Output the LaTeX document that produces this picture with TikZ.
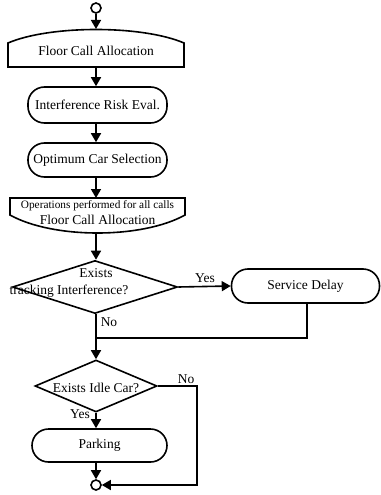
\documentclass[tikz,border=0pt]{standalone}
\usepackage{fontspec}
\setmainfont{Liberation Serif}
\usetikzlibrary{shapes.geometric,arrows.meta}
\begin{document}
\begin{tikzpicture}[x=1pt,y=-1pt,line width=1.6pt,
  txt/.style={font=\fontsize{13.5}{15}\selectfont,inner sep=0pt},
  small/.style={font=\fontsize{11.3}{12}\selectfont,inner sep=0pt},
  term/.style={draw,rounded corners=16.5pt,inner sep=0pt,font=\fontsize{13.5}{15}\selectfont},
  dia/.style={draw,diamond,inner sep=0pt},
  conn/.style={draw,circle,minimum size=10pt,inner sep=0pt},
  arr/.style={-{Triangle[length=9pt,width=10pt]}},
  lab/.style={font=\fontsize{13.5}{15}\selectfont,inner sep=0pt}]
\useasboundingbox (0,0) rectangle (380,495);
% start connector
\node[conn] (start) at (96,8) {};
% loop start shape
\draw (8,43) .. controls (50,25) and (142,25) .. (184,43) -- (184,67) -- (8,67) -- cycle;
\node[txt] (fca) at (96,51) {Floor Call Allocation};
\coordinate (fcaT) at (96,29);
\coordinate (fcaB) at (96,67);
% process terminals
\node[term,minimum width=139pt,minimum height=36pt] (ire) at (97.5,105) {Interference Risk Eval.};
\node[term,minimum width=139pt,minimum height=34pt] (ocs) at (97.5,160) {Optimum Car Selection};
% loop end shape
\draw (10,198) -- (185,198) -- (185,215) .. controls (142,239) and (53,239) .. (10,215) -- cycle;
\node[small] (ops) at (97.5,206) {Operations performed for all calls};
\node[txt] (fca2) at (97.5,220) {Floor Call Allocation};
\coordinate (leT) at (97.5,198);
\coordinate (leB) at (97.5,233);
% decision 1
\node[dia,minimum width=165pt,minimum height=53pt] (d1) at (95,287) {};
\node[txt] (d1a) at (96,273) {Exists};
\node[txt] (d1b) at (69,291) {tracking Interference?};
% service delay
\node[term,minimum width=148pt,minimum height=34pt] (sd) at (305.5,286) {Service Delay};
% decision 2
\node[dia,minimum width=122pt,minimum height=52pt] (d2) at (96,386) {};
\node[txt] (d2t) at (96,388) {Exists Idle Car?};
% parking
\node[term,minimum width=135pt,minimum height=33pt] (park) at (99.5,445.5) {Parking};
% end connector
\node[conn] (end) at (96,485) {};
\coordinate (merge) at (96,338);
\coordinate (rc) at (197,388);
% connectors
\draw[arr] (start.south) -- (fcaT);
\draw[arr] (fcaB) -- (ire.north -| fcaB);
\draw[arr] (ire.south -| fcaB) -- (ocs.north -| fcaB);
\draw[arr] (ocs.south -| fcaB) -- (leT -| fcaB);
\draw[arr] (leB -| fcaB) -- (d1.north -| fcaB);
\draw[arr] (d1.east) -- (sd.west);
\draw (sd.south -| 307,0) |- (merge);
\draw[arr] (d1.south -| fcaB) -- (d2.north);
\draw[arr] (d2.south) -- (park.north -| d2.south);
\draw[arr] (park.south -| d2.south) -- (end.north);
\draw[arr] (d2.east) -| (rc |- end.east) -- (end.east);
% labels
\node[lab] (yes1) at (205,278) {Yes};
\node[lab] (no1) at (109,322) {No};
\node[lab] (no2) at (186,379) {No};
\node[lab] (yes2) at (80,414) {Yes};
\end{tikzpicture}
\end{document}
